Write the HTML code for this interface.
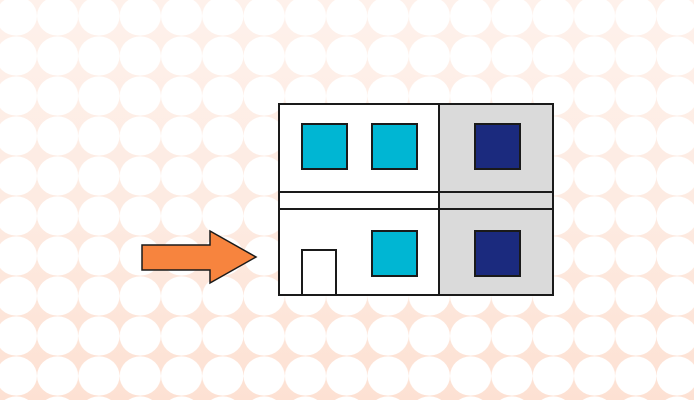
<!DOCTYPE html>
<html><head><style>html,body{margin:0;padding:0;background:#fff}svg{display:block}</style></head>
<body>
<svg width="694" height="400" viewBox="0 0 694 400" xmlns="http://www.w3.org/2000/svg">
<defs>
<linearGradient id="bg" x1="0" y1="0" x2="0" y2="1">
<stop offset="0" stop-color="#fef1eb"/>
<stop offset="0.5" stop-color="#fdebe2"/>
<stop offset="1" stop-color="#fde1d3"/>
</linearGradient>
<pattern id="dots" x="-4.3" y="-4" width="41.3" height="40" patternUnits="userSpaceOnUse">
<ellipse cx="20.65" cy="20" rx="20.6" ry="19.6" fill="#fff"/>
</pattern>
</defs>
<rect width="694" height="400" fill="url(#bg)"/>
<rect width="694" height="400" fill="url(#dots)"/>
<!-- building -->
<rect x="439" y="104" width="114" height="191" fill="#dadada"/>
<rect x="279" y="104" width="160" height="191" fill="#fff"/>
<g stroke="#1a1a1a" stroke-width="2" fill="none">
<rect x="279" y="104" width="274" height="191"/>
<line x1="439" y1="104" x2="439" y2="295"/>
<line x1="279" y1="192" x2="553" y2="192"/>
<line x1="279" y1="209" x2="553" y2="209"/>
</g>
<g stroke="#1a1a1a" stroke-width="2">
<rect x="302" y="124" width="45" height="45" fill="#00b6d3"/>
<rect x="372" y="124" width="45" height="45" fill="#00b6d3"/>
<rect x="475" y="124" width="45" height="45" fill="#1b2a7e"/>
<rect x="372" y="231" width="45" height="45" fill="#00b6d3"/>
<rect x="475" y="231" width="45" height="45" fill="#1b2a7e"/>
<rect x="302" y="250" width="34" height="45" fill="#fff"/>
</g>
<polygon points="142,245 210,245 210,231 256,257 210,283 210,270 142,270" fill="#f7843e" stroke="#1a1a1a" stroke-width="1.5"/>
</svg>
</body></html>
